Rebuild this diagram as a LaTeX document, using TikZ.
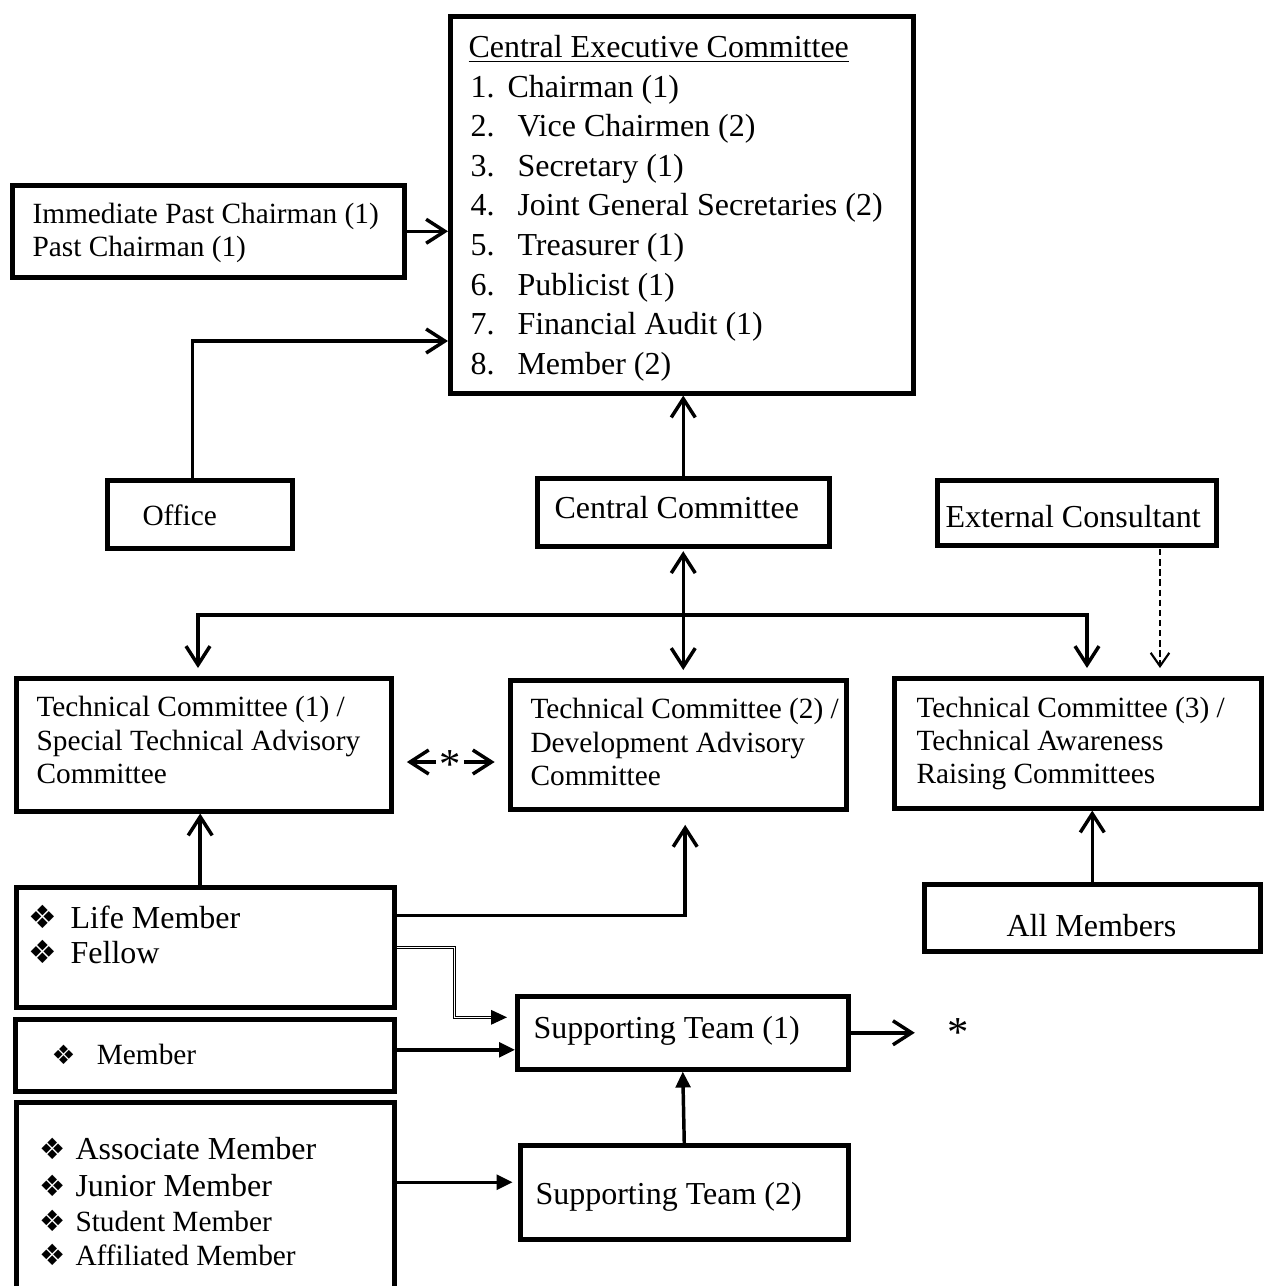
\documentclass[tikz,border=0pt]{standalone}
\usepackage{fontspec}
\setmainfont{Liberation Serif}
\newfontfamily\symfont{DejaVu Sans}
\usetikzlibrary{arrows.meta}

\newcommand{\lgtxt}{\fontsize{12}{14}\selectfont}
\newcommand{\smtxt}{\fontsize{11}{13}\selectfont}
\newcommand{\bul}[2]{\makebox[#1][l]{\symfont\fontsize{#2}{#2}\selectfont ❖}}

\tikzset{
  box/.style 2 args={draw, line width=1.7pt, anchor=north west, inner sep=0pt,
    minimum width=#1*0.375pt, minimum height=#2*0.375pt},
  txt/.style={anchor=base west, inner sep=0pt},
  starnode/.style={inner sep=0pt, font=\fontsize{16}{16}\selectfont, text height=1.2em, text depth=0pt},
  arr/.style={line width=1.3pt, -{Straight Barb[length=7pt,width=9pt]}},
  dblarr/.style={line width=1.3pt, {Straight Barb[length=7pt,width=9pt]}-{Straight Barb[length=7pt,width=9pt]}},
  fillarr/.style={line width=1.3pt, -{Triangle[length=6pt,width=5.5pt]}},
  dasharr/.style={line width=0.8pt, dash pattern=on 2.4pt off 1.4pt, -{Straight Barb[length=5pt,width=7pt]}},
  dblline/.style={double, double distance=0.4pt, line width=0.45pt}
}

\begin{document}
\begin{tikzpicture}[x=0.375pt, y=-0.375pt]
  \useasboundingbox (0,0) rectangle (1263,1286);

  % boxes
  \node[box={463}{377}] (cec) at (448,14) {};
  \node[box={392}{92}] (past) at (10,183) {};
  \node[box={185}{68}] (office) at (105,478) {};
  \node[box={292}{68}] (cc) at (535,476) {};
  \node[box={279}{65}] (ext) at (935,478) {};
  \node[box={375}{133}] (tcA) at (14,676) {};
  \node[box={336}{129}] (tcB) at (508,678) {};
  \node[box={367}{130}] (tcC) at (892,676) {};
  \node[box={378}{120}] (life) at (14,885) {};
  \node[box={379}{72}] (mem) at (13,1017) {};
  \node[box={378}{200}] (assoc) at (14,1100) {};
  \node[box={331}{73}] (st1) at (515,994) {};
  \node[box={328}{94}] (st2) at (518,1143) {};
  \node[box={336}{67}] (all) at (922,882) {};

  % texts
  \node[txt] (cectitle) at (468,57) {\lgtxt\underline{Central Executive Committee}};
  \foreach \i/\x/\t in {1/507/Chairman (1), 2/517/Vice Chairmen (2), 3/517/Secretary (1),
      4/517/Joint General Secretaries (2), 5/517/Treasurer (1), 6/517/Publicist (1),
      7/517/Financial Audit (1), 8/517/Member (2)} {
    \node[txt] (num\i) at (470,{97+39.6*(\i-1)}) {\lgtxt\i.};
    \node[txt] (item\i) at (\x,{97+39.6*(\i-1)}) {\lgtxt\t};
  }
  \node[txt] (pastA) at (32,223) {\smtxt Immediate Past Chairman (1)};
  \node[txt] (pastB) at (32,256) {\smtxt Past Chairman (1)};
  \node[txt] (officetxt) at (142,525) {\smtxt Office};
  \node[txt] (cctxt) at (554,518) {\lgtxt Central Committee};
  \node[txt] (exttxt) at (945,527) {\lgtxt External Consultant};

  \node[txt] (tcAa) at (36,716) {\smtxt Technical Committee (1) /};
  \node[txt] (tcAb) at (36,750) {\smtxt Special Technical Advisory};
  \node[txt] (tcAc) at (36,783) {\smtxt Committee};
  \node[txt] (tcBa) at (530,718) {\smtxt Technical Committee (2) /};
  \node[txt] (tcBb) at (530,752) {\smtxt Development Advisory};
  \node[txt] (tcBc) at (530,785) {\smtxt Committee};
  \node[txt] (tcCa) at (916,717) {\smtxt Technical Committee (3) /};
  \node[txt] (tcCb) at (916,750) {\smtxt Technical Awareness};
  \node[txt] (tcCc) at (916,783) {\smtxt Raising Committees};

  \node[txt] (lifeA) at (28,928) {\lgtxt\bul{15.8pt}{12}Life Member};
  \node[txt] (lifeB) at (28,963) {\lgtxt\bul{15.8pt}{12}Fellow};
  \node[txt] (memA) at (51,1064) {\smtxt\bul{17pt}{10}Member};
  \node[txt] (assocA) at (39,1159) {\lgtxt\bul{13.5pt}{11}Associate Member};
  \node[txt] (assocB) at (39,1196) {\lgtxt\bul{13.5pt}{11}Junior Member};
  \node[txt] (assocC) at (39,1231) {\smtxt\bul{13.5pt}{11}Student Member};
  \node[txt] (assocD) at (39,1265) {\smtxt\bul{13.5pt}{11}Affiliated Member};

  \node[txt] (st1txt) at (533,1038) {\lgtxt Supporting Team (1)};
  \node[txt] (st2txt) at (535,1204) {\lgtxt Supporting Team (2)};
  \node[txt] (alltxt) at (1006,936) {\lgtxt All Members};

  % connectors
  \draw[arr] (past.east) -- (past.east -| cec.west);
  \coordinate (offin) at (448,341);
  \draw[arr] ([xshift=-2.8pt]office.north) |- (offin);
  \draw[arr] (cc.north) -- (cc.north |- cec.south);
  \draw[dblarr, shorten <=1pt, shorten >=3pt] (cc.south) -- (cc.south |- tcB.north);
  \coordinate (busL) at (198,615);
  \coordinate (busR) at (1087,615);
  \draw[dblarr, shorten <=3pt, shorten >=3pt] (busL |- tcA.north) -- (busL) -- (busR) -- (busR |- tcC.north);
  \coordinate (extout) at (1160,549);
  \draw[dasharr, shorten >=3pt] (extout) -- (extout |- tcC.north);

  \node[starnode] (starA) at (450,762) {*};
  \draw[arr, shorten <=1pt, shorten >=5pt] (starA) -- (starA -| tcA.east);
  \draw[arr, shorten <=1pt, shorten >=5pt] (starA) -- (starA -| tcB.west);

  \coordinate (lifeout) at ([xshift=-1.9pt]life.north);
  \draw[arr] (lifeout) -- (lifeout |- tcA.south);
  \coordinate (lifeR) at ([yshift=12pt]life.east);
  \draw[arr, shorten >=5pt] (lifeR) -| ([xshift=2.6pt]tcB.south);
  \draw[fillarr, dblline, shorten >=3pt] (life.east) -- ++(58,0) |- ([yshift=5.8pt]st1.west);
  \coordinate (stin) at ([yshift=-6.4pt]st1.west);
  \draw[fillarr] (stin -| mem.east) -- (stin);
  \coordinate (st2in) at ([yshift=3.75pt]st2.west);
  \draw[fillarr, shorten >=2pt] (st2in -| assoc.east) -- (st2in);
  \draw[fillarr] (st2.north) -- (st1.south);
  \node[starnode] (starB) at (958,1030) {*};
  \draw[arr, shorten >=12pt] (st1.east) -- (st1.east -| starB.west);
  \draw[arr] (all.north) -- (all.north |- tcC.south);
\end{tikzpicture}
\end{document}
